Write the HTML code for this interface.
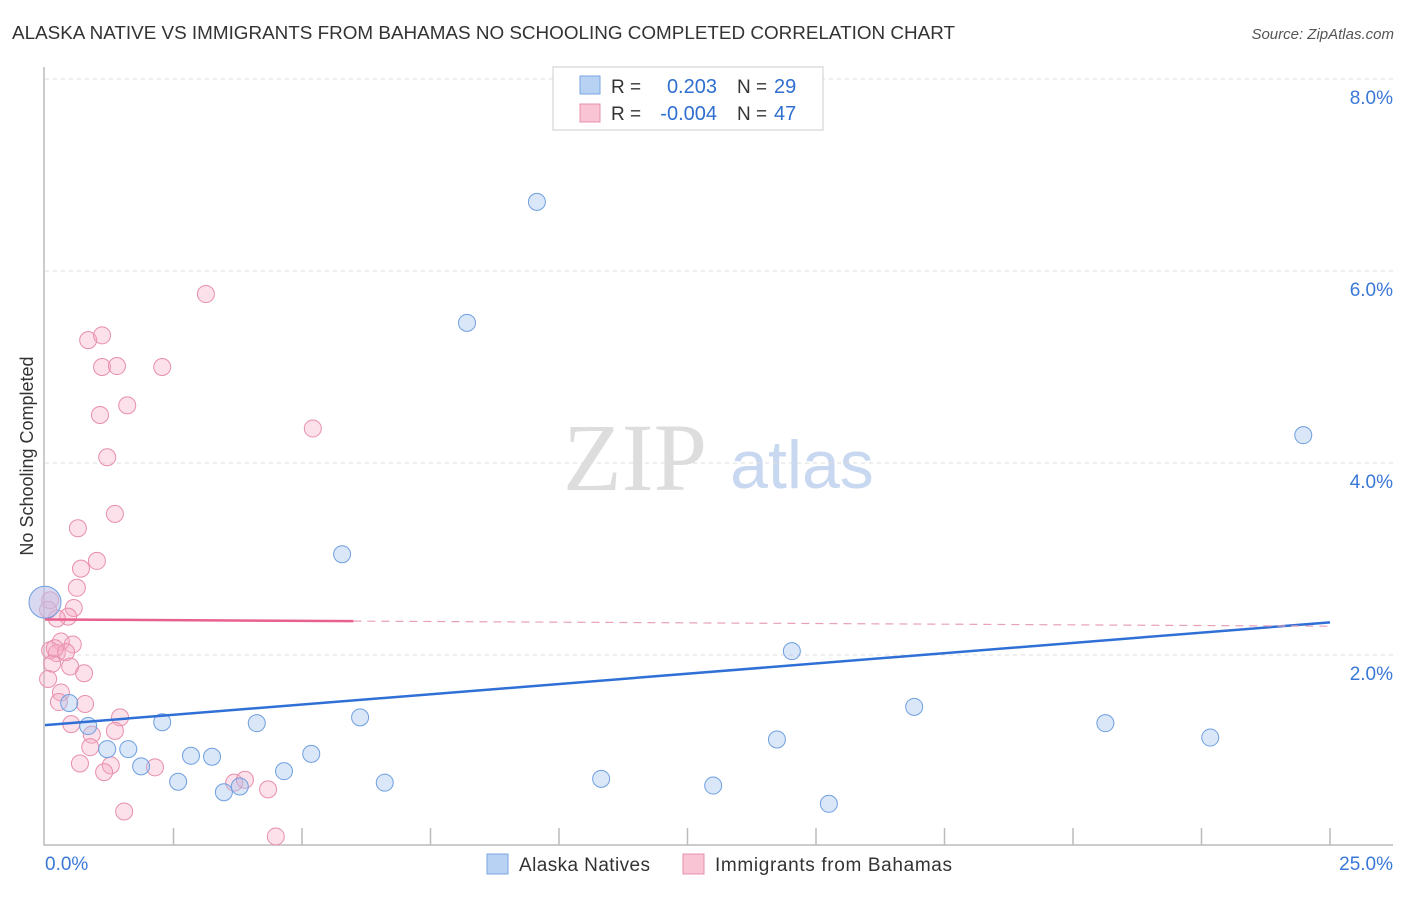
<!DOCTYPE html>
<html><head><meta charset="utf-8"><style>
body{margin:0;background:#fff;font-family:"Liberation Sans",sans-serif;}
svg text{font-family:"Liberation Sans",sans-serif;}
</style></head><body>
<svg id="chart" width="1406" height="892" xmlns="http://www.w3.org/2000/svg">
<text x="12" y="39" font-size="18" fill="#333" textLength="943" lengthAdjust="spacingAndGlyphs">ALASKA NATIVE VS IMMIGRANTS FROM BAHAMAS NO SCHOOLING COMPLETED CORRELATION CHART</text>
<text x="1394" y="39" font-size="15" fill="#555" font-style="italic" text-anchor="end">Source: ZipAtlas.com</text>
<text x="33" y="456" font-size="18" fill="#333" text-anchor="middle" transform="rotate(-90 33 456)">No Schooling Completed</text>
<text x="635" y="490" font-size="96" fill="#ddd" style="font-family:'Liberation Serif',serif" text-anchor="middle">ZIP</text>
<text x="802" y="488" font-size="68" fill="#c8d8f0" text-anchor="middle">atlas</text>
<g id="grid"></g><g id="axes"></g><g id="pts"></g><g id="lines"></g>
<g>
<rect x="553" y="67" width="270" height="63" fill="#fff" stroke="#ccc"/>
<rect x="580" y="76" width="20" height="18" fill="#b8d2f4" stroke="#7aa6e0"/>
<rect x="580" y="104" width="20" height="18" fill="#f9c4d4" stroke="#e890aa"/>
<text x="611" y="93" font-size="19" fill="#333">R =</text>
<text x="717" y="93" font-size="20" fill="#2f6fd0" text-anchor="end">0.203</text>
<text x="737" y="93" font-size="19" fill="#333">N =</text>
<text x="774" y="93" font-size="20" fill="#2f6fd0">29</text>
<text x="611" y="120" font-size="19" fill="#333">R =</text>
<text x="717" y="120" font-size="20" fill="#2f6fd0" text-anchor="end">-0.004</text>
<text x="737" y="120" font-size="19" fill="#333">N =</text>
<text x="774" y="120" font-size="20" fill="#2f6fd0">47</text>
</g>
<g>
<rect x="487" y="854" width="21" height="20" fill="#b8d2f4" stroke="#7aa6e0"/>
<text x="519" y="871" font-size="19" fill="#333" textLength="131">Alaska Natives</text>
<rect x="683" y="854" width="21" height="20" fill="#f9c4d4" stroke="#e890aa"/>
<text x="715" y="871" font-size="19" fill="#333" textLength="237">Immigrants from Bahamas</text>
</g>
</svg>
<script>
const yTicks=[2,4,6,8];
const xTickLabels=["0.0%","25.0%"];
const blueX=[0,0.47,0.84,1.21,1.62,1.87,2.28,2.59,2.84,3.25,3.48,3.79,4.12,4.65,5.18,5.78,6.13,6.61,8.21,9.57,10.82,13.0,14.24,14.53,15.25,16.91,20.63,22.67,24.48];
const blueY=[2.55,1.5,1.26,1.02,1.02,0.84,1.3,0.68,0.95,0.94,0.57,0.63,1.29,0.79,0.97,3.05,1.35,0.67,5.46,6.72,0.71,0.64,1.12,2.04,0.45,1.46,1.29,1.14,4.29];
const pinkX=[3.13,0.84,1.11,1.11,1.4,2.28,1.6,1.07,1.21,5.21,1.36,0.64,1.01,0.7,0.62,0.56,0.45,0.23,0.31,0.54,0.1,0.23,0.41,0.14,0.49,0.76,0.06,0.31,0.27,0.78,0.51,1.46,0.91,1.36,0.88,0.68,1.28,1.15,2.14,3.68,3.89,4.34,1.54,4.49,0.19,0.1,0.06];
const pinkY=[5.76,5.28,5.33,5.0,5.01,5.0,4.6,4.5,4.06,4.36,3.47,3.32,2.98,2.9,2.7,2.49,2.4,2.38,2.14,2.11,2.05,2.02,2.03,1.91,1.88,1.81,1.75,1.61,1.51,1.49,1.28,1.35,1.17,1.21,1.04,0.87,0.85,0.78,0.83,0.67,0.7,0.6,0.37,0.11,2.07,2.57,2.47];
const blueTrend=[1.27,2.34];
const pinkTrend=[2.37,2.30];
const X=v=>45+v*(1330-45)/25, Y=v=>847-v*96;
const NS="http://www.w3.org/2000/svg";
function mk(tag,parent,attrs){const e=document.createElementNS(NS,tag);for(const k in attrs)e.setAttribute(k,attrs[k]);document.getElementById(parent).appendChild(e);return e;}
yTicks.forEach(t=>{
 const l=mk('line','grid',{x1:45,x2:1393,y1:Y(t),y2:Y(t),stroke:'#ddd','stroke-dasharray':'4,4'});
 
 
 const tx=mk('text','grid',{x:1393,y:Y(t)+25,'font-size':19,fill:'#3a78d8','text-anchor':'end'});
 tx.textContent=t.toFixed(1)+'%';
 
 
});
const ax=mk('path','axes',{d:'M44,67 V845 H1393',fill:'none',stroke:'#bbb','stroke-width':1.5});


for(let i=1;i<=10;i++){const t=mk('line','axes',{x1:X(i*2.5),x2:X(i*2.5),y1:828,y2:845,stroke:'#bbb','stroke-width':1.5});
 
 }
const xl0=mk('text','axes',{x:45,y:870,'font-size':19,fill:'#3a78d8'});xl0.textContent=xTickLabels[0];


const xl1=mk('text','axes',{x:1393,y:870,'font-size':19,fill:'#3a78d8','text-anchor':'end'});xl1.textContent=xTickLabels[1];


pinkX.forEach((v,i)=>{const c=mk('circle','pts',{cx:X(v),cy:Y(pinkY[i]),r:8.5,fill:'rgba(245,170,195,0.35)',stroke:'#e88fab','stroke-width':1});
 
 });
blueX.forEach((v,i)=>{const c=mk('circle','pts',{cx:X(v),cy:Y(blueY[i]),r:i==0?16:8.5,fill:i==0?'rgba(190,190,230,0.6)':'rgba(160,195,240,0.4)',stroke:'#6f9fe0','stroke-width':1});
 
 });
const bl=mk('line','lines',{x1:X(0),y1:Y(blueTrend[0]),x2:X(25),y2:Y(blueTrend[1]),stroke:'#2f6fd6','stroke-width':2.5});


const pm=pinkTrend[0]+(pinkTrend[1]-pinkTrend[0])*6/25;
const pl=mk('line','lines',{x1:X(0),y1:Y(pinkTrend[0]),x2:X(6),y2:Y(pm),stroke:'#e8608e','stroke-width':2.5});


const pd=mk('line','lines',{x1:X(6),y1:Y(pm),x2:X(25),y2:Y(pinkTrend[1]),stroke:'#e8a0b8','stroke-width':1.2,'stroke-dasharray':'8,6'});


</script>
</body></html>
